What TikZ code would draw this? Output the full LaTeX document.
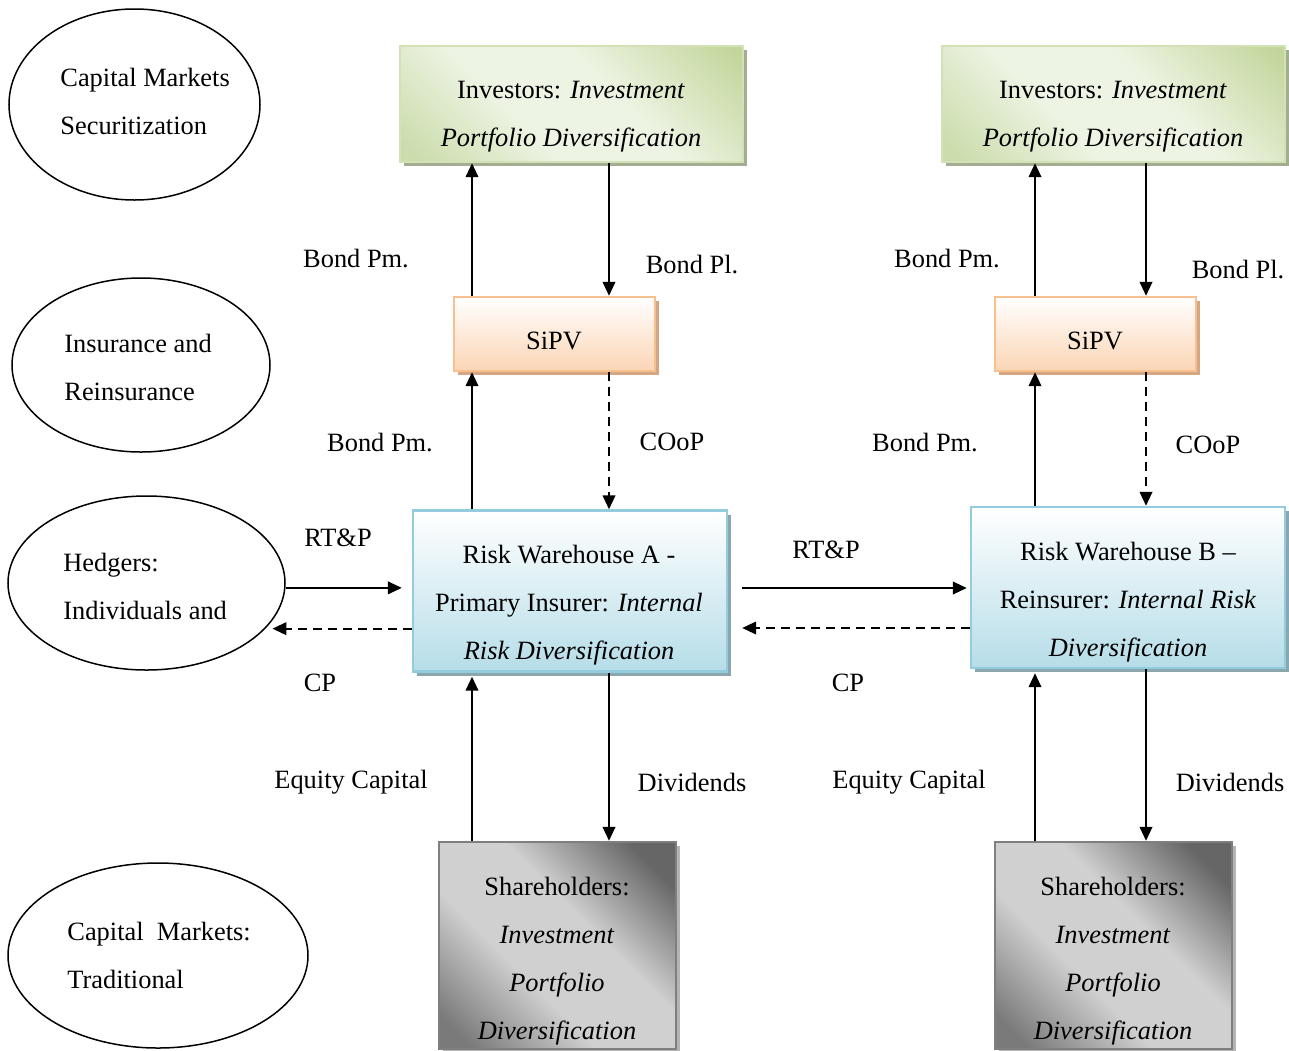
\documentclass[tikz,border=0pt]{standalone}
\usepackage{fontspec}
\setmainfont{Liberation Serif}
\usetikzlibrary{shapes.geometric,arrows.meta,shadows}

\definecolor{grDark}{HTML}{C2D59A}
\definecolor{grMid}{HTML}{EEF4E4}
\definecolor{grLow}{HTML}{CCDDAD}
\definecolor{grLine}{HTML}{D3E2B6}
\definecolor{grShadow}{HTML}{A2AD91}
\definecolor{orLow}{HTML}{FBD5B5}
\definecolor{orLine}{HTML}{F9C08F}
\definecolor{orShadow}{HTML}{D4A684}
\definecolor{blLow}{HTML}{B6DDE8}
\definecolor{blLine}{HTML}{93CDDD}
\definecolor{blShadow}{HTML}{8AA6AE}
\definecolor{gyDark}{HTML}{666666}
\definecolor{gyMid}{HTML}{D0D0D0}
\definecolor{gyLow}{HTML}{7A7A7A}
\definecolor{gyLine}{HTML}{7F7F7F}
\definecolor{gyShadow}{HTML}{B4B4B4}

% diagonal fills: darker in two opposite corners, light across the middle
\pgfdeclareverticalshading{greenfill}{100bp}{color(0bp)=(grLow); color(18bp)=(grLow);
  color(40bp)=(grMid); color(58bp)=(grMid); color(84bp)=(grDark); color(100bp)=(grDark)}
\pgfdeclareverticalshading{greyfill}{100bp}{color(0bp)=(gyLow); color(20bp)=(gyLow);
  color(40bp)=(gyMid); color(58bp)=(gyMid); color(78bp)=(gyDark); color(100bp)=(gyDark)}

\begin{document}
\begin{tikzpicture}[x=0.5pt,y=-0.5pt,
  txt/.style={font=\fontsize{13.2}{24}\selectfont, inner sep=0pt, align=center},
  lbl/.style={txt},
  oval/.style={ellipse, draw=black, line width=0.75pt, inner sep=0pt},
  box/.style={rectangle, inner sep=0pt, line width=1.2pt},
  invbox/.style={box, draw=grLine, shading=greenfill, shading angle=-45,
    general shadow={fill=grShadow, shadow xshift=2pt, shadow yshift=-2pt},
    minimum width=171.5pt, minimum height=58pt},
  spvbox/.style={box, draw=orLine, top color=white, bottom color=orLow,
    general shadow={fill=orShadow, shadow xshift=2pt, shadow yshift=-2pt},
    minimum width=100.5pt, minimum height=37pt},
  rwbox/.style={box, draw=blLine, top color=white, bottom color=blLow,
    general shadow={fill=blShadow, shadow xshift=2pt, shadow yshift=-2pt},
    minimum width=157pt, minimum height=80.5pt},
  shbox/.style={box, draw=gyLine, shading=greyfill, shading angle=-45,
    general shadow={fill=gyShadow, shadow xshift=2pt, shadow yshift=-2pt},
    minimum width=118.5pt, minimum height=103.5pt},
  arr/.style={-{Triangle[length=7pt,width=6.3pt]}, line width=1pt},
  dflow/.style={arr, dash pattern=on 4.5pt off 3pt}
]
\useasboundingbox (0,0) rectangle (1289,1050);

% market segments on the left
\node[oval, minimum width=125.5pt, minimum height=95.5pt] (secM) at (134.5,104.5) {};
\node[oval, minimum width=129pt, minimum height=87pt] (insM) at (141,365) {};
\node[oval, minimum width=138.5pt, minimum height=87pt] (hedM) at (146.5,583) {};
\node[oval, minimum width=150pt, minimum height=92.5pt] (tradM) at (158,955.5) {};

\node[txt, align=left, anchor=west] (secT) at (60,101) {Capital Markets\\Securitization};
\node[txt, align=left, anchor=west] (insT) at (64,367.5) {Insurance and\\Reinsurance};
\node[txt, align=left, anchor=west] (hedT) at (63,586) {Hedgers:\\Individuals and};
\node[txt, align=left, anchor=west] (tradT) at (67,955) {Capital~ Markets:\\Traditional};

% boxes
\node[invbox] (invA) at (571.5,104) {};
\node[invbox] (invB) at (1113.5,104) {};
\node[spvbox] (spvA) at (554.5,334) {};
\node[spvbox] (spvB) at (1095.5,334) {};
\node[rwbox] (rwA) at (570,591) {};
\node[rwbox] (rwB) at (1128,587.5) {};
\node[shbox] (shA) at (557.5,945.5) {};
\node[shbox] (shB) at (1113.5,945.5) {};

\node[txt] (invAt) at (571,117) {Investors: \textit{Investment}\\\textit{Portfolio Diversification}};
\node[txt] (invBt) at (1113,117) {Investors: \textit{Investment}\\\textit{Portfolio Diversification}};
\node[txt] (spvAt) at (554,341) {SiPV};
\node[txt] (spvBt) at (1095,341) {SiPV};
\node[txt] (rwAt) at (569,605) {Risk Warehouse A -\\Primary Insurer: \textit{Internal}\\\textit{Risk Diversification}};
\node[txt] (rwBt) at (1128,602) {Risk Warehouse B --\\Reinsurer: \textit{Internal Risk}\\\textit{Diversification}};
\node[txt] (shAt) at (557,961) {Shareholders:\\\textit{Investment}\\\textit{Portfolio}\\\textit{Diversification}};
\node[txt] (shBt) at (1113,961) {Shareholders:\\\textit{Investment}\\\textit{Portfolio}\\\textit{Diversification}};

% columns and rows of the flows
\coordinate (cAu) at (472,0);
\coordinate (cAd) at (609,0);
\coordinate (cBu) at (1035,0);
\coordinate (cBd) at (1146,0);
\coordinate (ySo) at (0,588);
\coordinate (yDa) at (0,628);

% primary insurer column
\draw[arr] (spvA.north -| cAu) -- (invA.south -| cAu);
\draw[arr] (invA.south -| cAd) -- (spvA.north -| cAd);
\draw[arr] (rwA.north -| cAu) -- (spvA.south -| cAu);
\draw[dflow] (spvA.south -| cAd) -- (rwA.north -| cAd);
\draw[arr, shorten >=2pt] (shA.north -| cAu) -- (rwA.south -| cAu);
\draw[arr] (rwA.south -| cAd) -- (shA.north -| cAd);

% reinsurer column
\draw[arr] (spvB.north -| cBu) -- (invB.south -| cBu);
\draw[arr] (invB.south -| cBd) -- (spvB.north -| cBd);
\draw[arr] (rwB.north -| cBu) -- (spvB.south -| cBu);
\draw[dflow] (spvB.south -| cBd) -- (rwB.north -| cBd);
\draw[arr, shorten >=2pt] (shB.north -| cBu) -- (rwB.south -| cBu);
\draw[arr] (rwB.south -| cBd) -- (shB.north -| cBd);

% horizontal flows
\draw[arr, shorten >=5pt] (hedM.-2) -- (hedM.-2 -| rwA.west);
\draw[dflow, shorten >=3.5pt] (rwA.west |- hedM.-21) -- (hedM.-21);
\draw[arr, shorten <=7pt, shorten >=1.5pt] (rwA.east |- ySo) -- (rwB.west |- ySo);
\draw[dflow, shorten >=7pt] (rwB.west |- yDa) -- (rwA.east |- yDa);

% flow labels
\node[lbl] (l1) at (356,259) {Bond Pm.};
\node[lbl] (l2) at (692,265) {Bond Pl.};
\node[lbl] (l3) at (947,259) {Bond Pm.};
\node[lbl] (l4) at (1238,270) {Bond Pl.};
\node[lbl] (l5) at (380,443) {Bond Pm.};
\node[lbl] (l6) at (672,442) {COoP};
\node[lbl] (l7) at (925,443) {Bond Pm.};
\node[lbl] (l8) at (1208,445) {COoP};
\node[lbl] (l9) at (338,538) {RT\&P};
\node[lbl] (l10) at (826,550) {RT\&P};
\node[lbl] (l11) at (320,683) {CP};
\node[lbl] (l12) at (848,683) {CP};
\node[lbl] (l13) at (351,782) {Equity Capital};
\node[lbl] (l14) at (692,782) {Dividends};
\node[lbl] (l15) at (909,782) {Equity Capital};
\node[lbl] (l16) at (1230,782) {Dividends};
\end{tikzpicture}
\end{document}
